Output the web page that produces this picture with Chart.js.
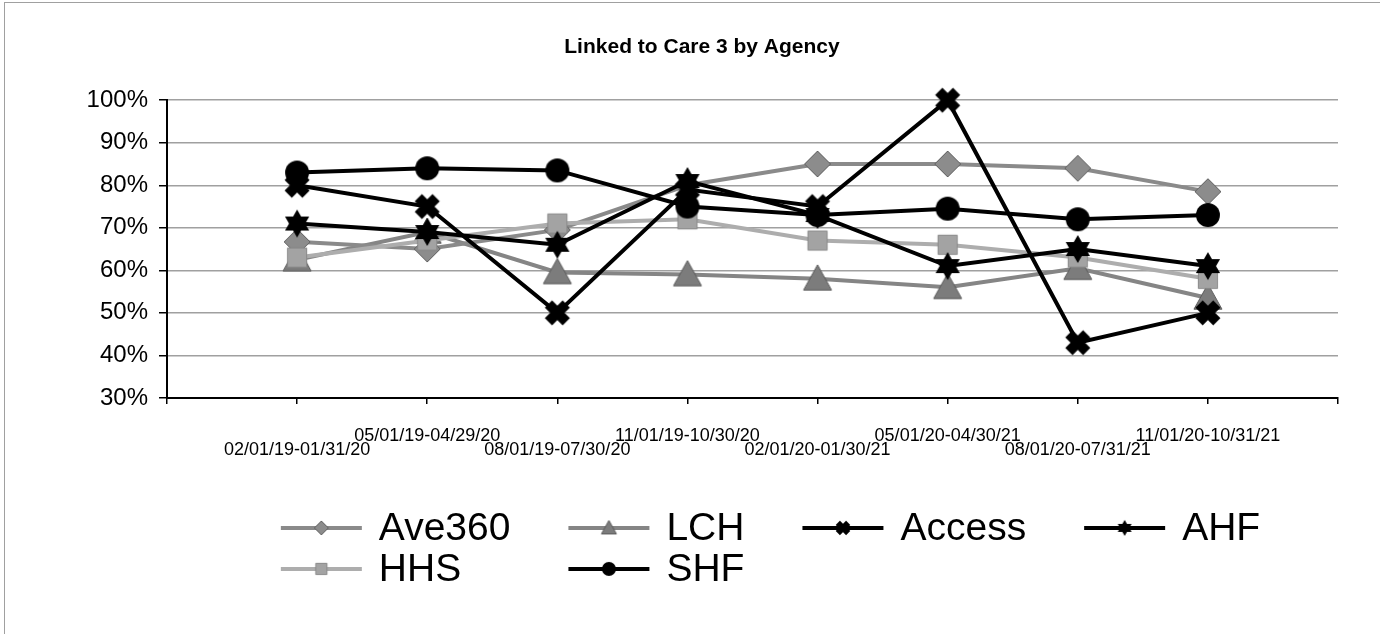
<!DOCTYPE html>
<html>
<head>
<meta charset="utf-8">
<title>Linked to Care 3 by Agency</title>
<script src="https://cdn.jsdelivr.net/npm/chart.js@4.4.0/dist/chart.umd.min.js"></script>
<style>
  html, body { margin: 0; padding: 0; background: #fff; }
  #wrap { position: relative; width: 1380px; height: 634px; }
  #lineChart { display: block; }
  #frame { position: absolute; left: 4px; top: 2px; right: 0; bottom: 0;
           border-top: 1px solid #a0a0a0; border-left: 1px solid #a0a0a0; pointer-events: none; }
</style>
</head>
<body>
<div id="wrap">
  <canvas id="lineChart" width="1380" height="634"></canvas>
  <div id="frame"></div>
</div>
<script>
// reporting periods (rolling 12 months)
const periods = [
  '02/01/19-01/31/20', '05/01/19-04/29/20', '08/01/19-07/30/20', '11/01/19-10/30/20',
  '02/01/20-01/30/21', '05/01/20-04/30/21', '08/01/20-07/31/21', '11/01/20-10/31/21'
];

// % linked to care
const ave360 = [66.7, 65, 69.5, 80, 85, 85, 84, 78.5];
const lch    = [62.5, 69, 59.5, 59, 58, 56, 60.5, 53.5];
const access = [80, 75, 50, 79, 75, 100, 43, 50];
const ahf    = [71, 69, 66, 81, 73, 61, 65, 61];
const hhs    = [63, 67, 71, 72, 67, 66, 63, 58];
const shf    = [83, 84, 83.5, 75, 73, 74.5, 72, 73];

const yMin = 30, yMax = 100, yStep = 10;

const FONT = "'Liberation Sans', Arial, sans-serif";

// empty slot at each end, labels staggered over two rows
const xLabels = [''].concat(periods.map((p, i) => i % 2 ? [p, ''] : ['', p]), ['']);
const pad = arr => [null].concat(arr, [null]);

// marker glyphs as small canvases (used for points and legend)
function marker(shape, size, fill, stroke) {
  const c = document.createElement('canvas');
  c.width = c.height = size + 4;
  const g = c.getContext('2d');
  const m = (size + 4) / 2, r = size / 2;
  g.fillStyle = fill;
  g.strokeStyle = stroke;
  g.lineWidth = 1;
  g.beginPath();
  if (shape === 'diamond') {
    g.moveTo(m, m - r); g.lineTo(m + r, m); g.lineTo(m, m + r); g.lineTo(m - r, m); g.closePath();
  } else if (shape === 'triangle') {
    g.moveTo(m, m - r); g.lineTo(m + r, m + r * 0.8); g.lineTo(m - r, m + r * 0.8); g.closePath();
  } else if (shape === 'square') {
    g.rect(m - r * 0.8, m - r * 0.8, r * 1.6, r * 1.6);
  } else if (shape === 'circle') {
    g.arc(m, m, r, 0, Math.PI * 2);
  } else if (shape === 'x') {
    g.translate(m, m);
    g.rotate(Math.PI / 4);
    const w = r * 0.85;
    g.rect(-r * 1.05, -w / 2, r * 2.1, w);
    g.rect(-w / 2, -r * 1.05, w, r * 2.1);
  } else if (shape === 'star') {
    for (let k = 0; k < 2; k++) {
      for (let j = 0; j < 3; j++) {
        const a = -Math.PI / 2 + k * Math.PI + j * Math.PI * 2 / 3;
        const px = m + r * Math.cos(a), py = m + r * Math.sin(a);
        if (j === 0) g.moveTo(px, py); else g.lineTo(px, py);
      }
      g.closePath();
    }
  }
  g.fill();
  if (stroke) g.stroke();
  return c;
}

function series(label, values, color, lineWidth, shape, fill, stroke, size, legendSize, order) {
  return {
    label: label,
    data: pad(values),
    borderColor: color,
    borderWidth: lineWidth,
    pointStyle: marker(shape, size, fill, stroke),
    legendMarker: marker(shape, legendSize, fill, stroke),
    pointRadius: 12,
    pointHoverRadius: 12,
    tension: 0,
    clip: false,
    order: order
  };
}

const datasets = [
  series('Ave360', ave360, '#8a8a8a', 4, 'diamond', '#8c8c8c', '#606060', 26, 14, 5),
  series('LCH', lch, '#858585', 4, 'triangle', '#7c7c7c', '#5a5a5a', 28, 15, 6),
  series('Access', access, '#000000', 4, 'x', '#000000', null, 24, 14, 2),
  series('AHF', ahf, '#000000', 4, 'star', '#000000', null, 28, 16, 3),
  series('HHS', hhs, '#adadad', 4, 'square', '#a3a3a3', '#888888', 24, 14, 4),
  series('SHF', shf, '#000000', 4, 'circle', '#000000', null, 24, 14, 1)
];

// legend laid out in aligned columns, like the original; title nudged right
const gridLegend = {
  id: 'gridLegend',
  afterLayout(chart) {
    const t = chart.titleBlock;
    if (t) { t.left += 33; t.right += 33; }
  },
  afterDraw(chart) {
    const ctx = chart.ctx, area = chart.chartArea;
    const perRow = 4, lineLen = 81, textGap = 17, colGap = 58, rowGap = 41;
    ctx.save();
    ctx.font = '39px ' + FONT;
    const items = chart.data.datasets.map(ds => ({ ds: ds, w: lineLen + textGap + ctx.measureText(ds.label).width }));
    const colW = [];
    items.forEach((it, i) => { const c = i % perRow; colW[c] = Math.max(colW[c] || 0, it.w); });
    const total = colW.reduce((a, b) => a + b, 0) + colGap * (colW.length - 1);
    const startX = (area.left + area.right) / 2 + 18 - total / 2;
    const top = area.bottom + 130;
    items.forEach((it, i) => {
      const c = i % perRow, r = Math.floor(i / perRow);
      let x = startX;
      for (let k = 0; k < c; k++) x += colW[k] + colGap;
      const y = top + r * rowGap;
      ctx.strokeStyle = it.ds.borderColor;
      ctx.lineWidth = 4;
      ctx.beginPath();
      ctx.moveTo(x, y);
      ctx.lineTo(x + lineLen, y);
      ctx.stroke();
      const m = it.ds.legendMarker;
      ctx.drawImage(m, x + lineLen / 2 - m.width / 2, y - m.height / 2);
      ctx.fillStyle = '#000';
      ctx.textBaseline = 'middle';
      ctx.textAlign = 'left';
      ctx.fillText(it.ds.label, x + lineLen + textGap, y + 1);
    });
    ctx.restore();
  }
};

var lineChart = new Chart(document.getElementById('lineChart'), {
  type: 'line',
  data: { labels: xLabels, datasets: datasets },
  options: {
    responsive: false,
    animation: false,
    layout: { padding: { left: 0, right: 42, top: 0, bottom: 152 } },
    plugins: {
      legend: { display: false },
      tooltip: { enabled: false },
      title: {
        display: true,
        text: 'Linked to Care 3 by Agency',
        color: '#000',
        font: { family: FONT, size: 21, weight: 'bold' },
        padding: { top: 35, bottom: 40 }
      }
    },
    scales: {
      x: {
        grid: { drawOnChartArea: false, drawTicks: true, tickLength: 6, color: '#000', lineWidth: 1.5 },
        border: { color: '#000', width: 2 },
        ticks: {
          autoSkip: false, maxRotation: 0, minRotation: 0, padding: 25, color: '#000',
          font: { family: FONT, size: 18, lineHeight: 0.78 }
        }
      },
      y: {
        min: yMin,
        max: yMax,
        afterFit: function (scale) { scale.width = 167; },
        grid: { color: '#a0a0a0', lineWidth: 1.5, tickLength: 8, tickColor: '#000', tickWidth: 1.5 },
        border: { color: '#000', width: 2 },
        ticks: {
          stepSize: yStep, padding: 11, color: '#000',
          font: { family: FONT, size: 24 },
          callback: function (v) { return v + '%'; }
        }
      }
    }
  },
  plugins: [gridLegend]
});
</script>
</body>
</html>
